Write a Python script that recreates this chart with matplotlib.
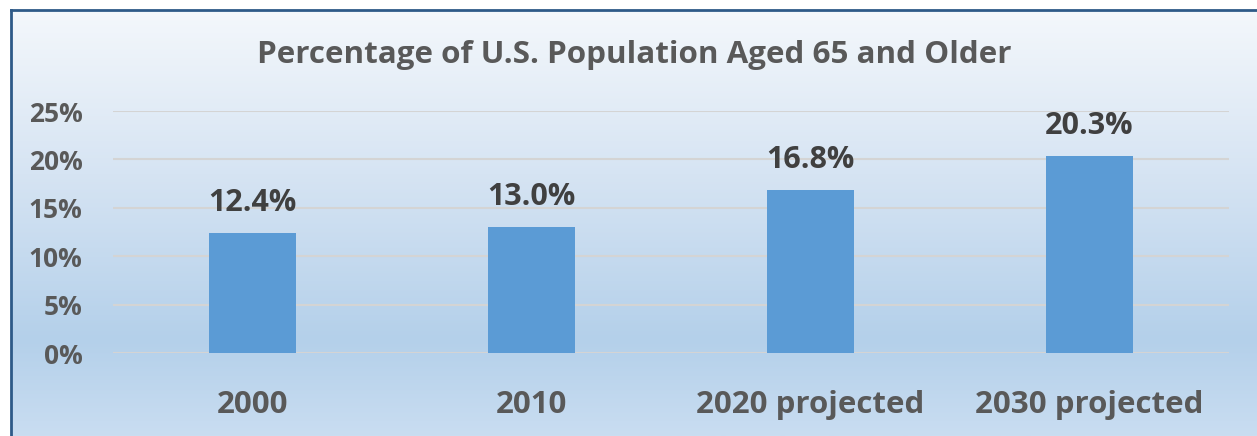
import numpy as np
import matplotlib.pyplot as plt
from matplotlib.colors import LinearSegmentedColormap
from matplotlib.lines import Line2D

categories = ["2000", "2010", "2020 projected", "2030 projected"]
values = [12.4, 13.0, 16.8, 20.3]
yticks = [0, 5, 10, 15, 20, 25]
title = "Percentage of U.S. Population Aged 65 and Older"

plt.rcParams['font.family'] = ['Open Sans', 'DejaVu Sans']

fig = plt.figure(figsize=(12.57, 4.36), dpi=100)

# background gradient (top light -> bluer near bottom -> slightly lighter)
bg = fig.add_axes([0, 0, 1, 1], zorder=0)
cmap = LinearSegmentedColormap.from_list(
    "bg", [(0.0, "#c9ddf1"), (0.22, "#b4d0ea"), (0.6, "#d6e4f3"), (1.0, "#f6f9fc")])
grad = np.linspace(0, 1, 256).reshape(-1, 1)
bg.imshow(grad, aspect="auto", cmap=cmap, origin="lower", extent=[0, 1, 0, 1])
bg.axis("off")
# white strip outside the chart frame
bg.fill_between([0, 1], 1 - 9.5 / 436, 1, color="white")
bg.fill_between([0, 10 / 1257], 0, 1, color="white")
bg.set_xlim(0, 1)
bg.set_ylim(0, 1)
fig.add_artist(Line2D([10.5 / 1257, 1], [1 - 10 / 436] * 2, color="#2e5a88", lw=2))
fig.add_artist(Line2D([10.5 / 1257] * 2, [0, 1 - 10 / 436], color="#2e5a88", lw=2))

ax = fig.add_axes([113 / 1257, 1 - 353 / 436, (1229 - 113) / 1257, (353 - 111) / 436], zorder=1)
ax.patch.set_alpha(0)
x = np.arange(len(categories))
ax.bar(x, values, width=0.315, color="#5b9bd5", zorder=2)
ax.set_xlim(-0.5, 3.5)
ax.set_ylim(0, 25)
ax.set_yticks(yticks)
ax.set_yticklabels([f"{t}%" for t in yticks], fontsize=19, fontweight="bold", color="#595959")
ax.set_xticks(x)
ax.set_xticklabels(categories, fontsize=22.5, fontweight="bold", color="#595959")
ax.tick_params(length=0)
ax.tick_params(axis="y", pad=22)
ax.tick_params(axis="x", pad=26.5)
for s in ax.spines.values():
    s.set_visible(False)
ax.grid(axis="y", color="#d4d4d4", lw=1.5, zorder=1)
ax.set_axisbelow(True)

for xi, v in zip(x, values):
    ax.annotate(f"{v:.1f}%", (xi, v), xytext=(0, 16), textcoords="offset points",
                ha="center", va="baseline", fontsize=22, fontweight="bold", color="#404040")

fig.text(0.5 + 6 / 1257, 1 - 55 / 436, title, ha="center", va="center",
         fontsize=22.6, fontweight="bold", color="#595959")

fig.savefig("out.png", dpi=100)
